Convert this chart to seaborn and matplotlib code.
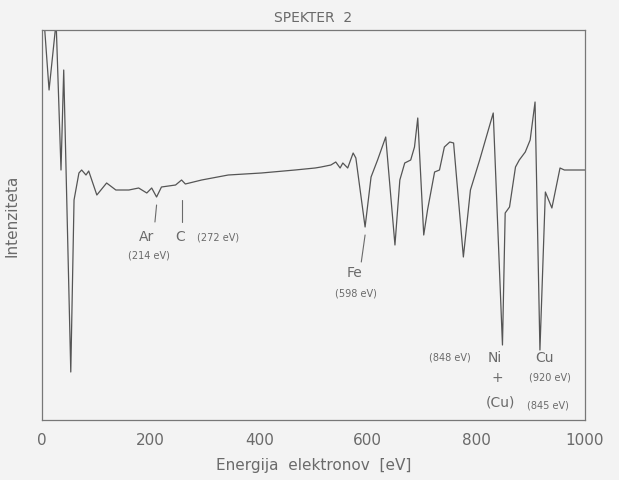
import matplotlib
matplotlib.use("Agg")
import matplotlib.pyplot as plt
import pandas as pd
import seaborn as sns

# Auger spectrum (intensity in arbitrary units)
energy = [0, 4, 13, 26, 35, 40, 53, 59, 68, 73, 81, 86, 101, 119, 136, 160,
          178, 193, 202, 211, 220, 246, 257, 264, 294, 343, 404, 466, 503,
          514, 532, 541, 549, 554, 563, 573, 578, 595, 606, 618, 633, 650,
          659, 668, 679, 686, 692, 703, 710, 723, 732, 741, 751, 758, 776,
          789, 806, 831, 848, 853, 861, 872, 879, 890, 899, 908, 917, 927,
          939, 954, 962, 1000]
intensity = [440, 398, 330, 398, 250, 350, 48, 220, 247, 250, 245, 249, 225,
             237, 230, 230, 232, 227, 232, 223, 233, 235, 240, 236, 240, 245,
             247, 250, 252, 253, 255, 258, 252, 257, 252, 267, 262, 193, 243,
             260, 283, 175, 240, 257, 260, 273, 302, 185, 210, 248, 250, 273,
             278, 277, 163, 230, 260, 307, 75, 207, 213, 253, 260, 268, 280,
             318, 70, 228, 212, 252, 250, 250]

x_ticks = [0, 200, 400, 600, 800, 1000]

# peak labels: (text, x in eV, y in intensity units, size)
labels = [
    ("Ar", 193, 183, 10), ("(214 eV)", 197, 165, 7),
    ("C", 254, 183, 10), ("(272 eV)", 325, 182, 7),
    ("Fe", 576, 147, 10), ("(598 eV)", 578, 127, 7),
    ("(848 eV)", 752, 62, 7), ("Ni", 833, 62, 10), ("+", 839, 42, 10),
    ("(Cu)", 844, 18, 10), ("(845 eV)", 932, 15, 7),
    ("Cu", 926, 62, 10), ("(920 eV)", 935, 42, 7),
]
# short marker strokes under peaks: (x0, y0, x1, y1)
strokes = [(211, 215, 208, 198), (257, 220, 257, 198), (595, 185, 588, 158)]

ink = "#6a6a6a"
paper = "#f3f3f3"

sns.set_style("white")
plt.rcParams["font.family"] = ["DejaVu Sans"]

fig = plt.figure(figsize=(6.19, 4.80), dpi=100, facecolor=paper)
ax = fig.add_axes([42 / 619, 60 / 480, 543 / 619, 390 / 480])
ax.set_facecolor(paper)

df = pd.DataFrame({"energy": energy, "intensity": intensity})
sns.lineplot(data=df, x="energy", y="intensity", sort=False, estimator=None,
             color="#555555", linewidth=0.9, ax=ax)

for x0, y0, x1, y1 in strokes:
    ax.plot([x0, x1], [y0, y1], color=ink, linewidth=0.8)

for text, x, y, size in labels:
    ax.text(x, y, text, ha="center", va="center", fontsize=size, color=ink)

ax.set_xlim(0, 1000)
ax.set_ylim(0, 390)
ax.set_xticks(x_ticks)
ax.set_xticklabels([str(t) for t in x_ticks], fontsize=11, color=ink)
ax.set_yticks([])
ax.tick_params(axis="x", direction="inout", length=7, width=0.8, color=ink, pad=6)
for side in ax.spines.values():
    side.set_color("#777777")
    side.set_linewidth(0.9)

ax.set_xlabel("Energija  elektronov  [eV]", fontsize=11, color=ink, labelpad=7)
ax.set_ylabel("")
fig.text(0.02, 0.55, "Intenziteta", rotation=90, ha="center", va="center",
         fontsize=11, color=ink)
fig.text(0.505, 0.962, "SPEKTER  2", ha="center", va="center", fontsize=10, color=ink)

fig.savefig("out.png", dpi=100, facecolor=paper)
